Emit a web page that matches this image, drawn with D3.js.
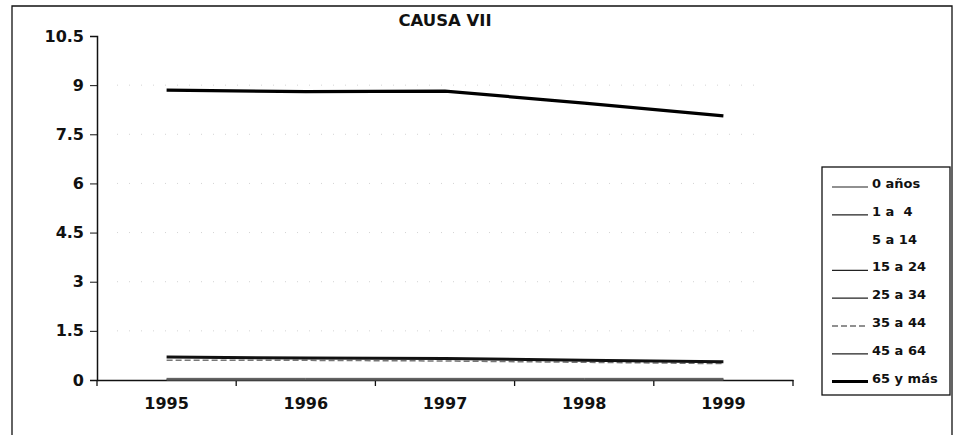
<!DOCTYPE html>
<html>
<head>
<meta charset="utf-8">
<script src="https://cdn.jsdelivr.net/npm/d3@7"></script>
<style>
  body { margin: 0; background: #fff; }
  text { font-family: "DejaVu Sans", sans-serif; font-weight: bold; fill: #111; }
</style>
</head>
<body>
<svg id="chart" width="954" height="435"></svg>
<script>
// data
var years = ["1995", "1996", "1997", "1998", "1999"];
var yTicks = [0, 1.5, 3, 4.5, 6, 7.5, 9, 10.5];
var groups = ["0 años", "1 a  4", "5 a 14", "15 a 24", "25 a 34", "35 a 44", "45 a 64", "65 y más"];
var v0 = [0.02, 0.02, 0.02, 0.02, 0.02];
var v1 = [0.01, 0.01, 0.01, 0.01, 0.01];
var v5 = [0.01, 0.01, 0.01, 0.01, 0.01];
var v15 = [0.02, 0.02, 0.02, 0.02, 0.02];
var v25 = [0.05, 0.05, 0.05, 0.05, 0.05];
var v35 = [0.6, 0.6, 0.58, 0.54, 0.5];
var v45 = [0.7, 0.67, 0.66, 0.6, 0.56];
var v65 = [8.85, 8.8, 8.82, 8.45, 8.06];
var series = [v0, v1, v5, v15, v25, v35, v45, v65];
// line looks per group
var strokes = ["#333", "#222", "#fff", "#444", "#555", "#777", "#111", "#000"];
var widths = [1, 1.5, 1, 1, 1, 1.5, 3, 3.2];
var dashes = [null, null, null, null, null, "6,3", null, null];

var svg = d3.select("#chart");
var margin = {left: 97, right: 161, top: 36, bottom: 55};
var W = 954, H = 435;

// outer frame
svg.append("path").attr("d", "M12,435V6H952V435").attr("fill", "none").attr("stroke", "#111").attr("stroke-width", 1.3);

var x = d3.scaleBand().domain(years).range([margin.left, W - margin.right]);
var y = d3.scaleLinear().domain([0, 10.5]).range([H - margin.bottom, margin.top]);

// faint dotted gridlines
svg.append("g").selectAll("line").data(yTicks.filter(function(d) { return d > 0 && d < 10.5; }))
  .enter().append("line")
  .attr("x1", margin.left + 20).attr("x2", W - margin.right - 30)
  .attr("y1", function(d) { return y(d); }).attr("y2", function(d) { return y(d); })
  .attr("stroke", "#d4d4d4").attr("stroke-width", 1).attr("stroke-dasharray", "1,11");

var yAxis = svg.append("g").attr("transform", "translate(" + margin.left + ",0)")
  .call(d3.axisLeft(y).tickValues(yTicks).tickSize(7).tickPadding(6).tickFormat(function(d) { return d; }));
var xAxis = svg.append("g").attr("transform", "translate(0," + (H - margin.bottom) + ")")
  .call(d3.axisBottom(x).tickSize(0).tickPadding(18));
// category boundary ticks
xAxis.selectAll(".bound").data(d3.range(years.length + 1)).enter().append("line")
  .attr("x1", function(i) { return margin.left + i * x.step(); })
  .attr("x2", function(i) { return margin.left + i * x.step(); })
  .attr("y1", 0).attr("y2", 6).attr("stroke", "#111").attr("stroke-width", 1.3);

[yAxis, xAxis].forEach(function(a) {
  a.selectAll("path.domain").attr("stroke", "#111").attr("stroke-width", 1.5);
  a.selectAll(".tick line").attr("stroke", "#111");
  a.selectAll("text").style("font-size", "16px").style("font-family", "'DejaVu Sans', sans-serif").style("font-weight", "bold").attr("fill", "#111");
});

var line = d3.line()
  .x(function(d, i) { return x(years[i]) + x.bandwidth() / 2; })
  .y(function(d) { return y(d); });

svg.append("g").selectAll("path").data(series).enter().append("path")
  .attr("d", line).attr("fill", "none")
  .attr("stroke", function(d, i) { return strokes[i]; })
  .attr("stroke-width", function(d, i) { return widths[i]; })
  .attr("stroke-dasharray", function(d, i) { return dashes[i]; });

// title
svg.append("text").attr("x", 445).attr("y", 26).attr("text-anchor", "middle")
  .style("font-size", "16.5px").text("CAUSA VII");

// legend
var lg = svg.append("g").attr("transform", "translate(822,167)");
lg.append("rect").attr("width", 128).attr("height", 228).attr("fill", "#fff").attr("stroke", "#111").attr("stroke-width", 1.3);
var item = lg.selectAll("g.item").data(groups).enter().append("g")
  .attr("transform", function(d, i) { return "translate(0," + (16 + i * 27.8) + ")"; });
item.append("line").attr("x1", 10).attr("x2", 46).attr("y1", 4).attr("y2", 4)
  .attr("stroke", function(d, i) { return i === 2 ? "#fff" : (i === 7 ? "#000" : "#222"); })
  .attr("stroke-width", function(d, i) { return i === 7 ? 3 : 1.2; })
  .attr("stroke-dasharray", function(d, i) { return dashes[i]; });
item.append("text").attr("x", 50).attr("y", 5).style("font-size", "13px").style("white-space", "pre").text(function(d) { return d; });
</script>
</body>
</html>
